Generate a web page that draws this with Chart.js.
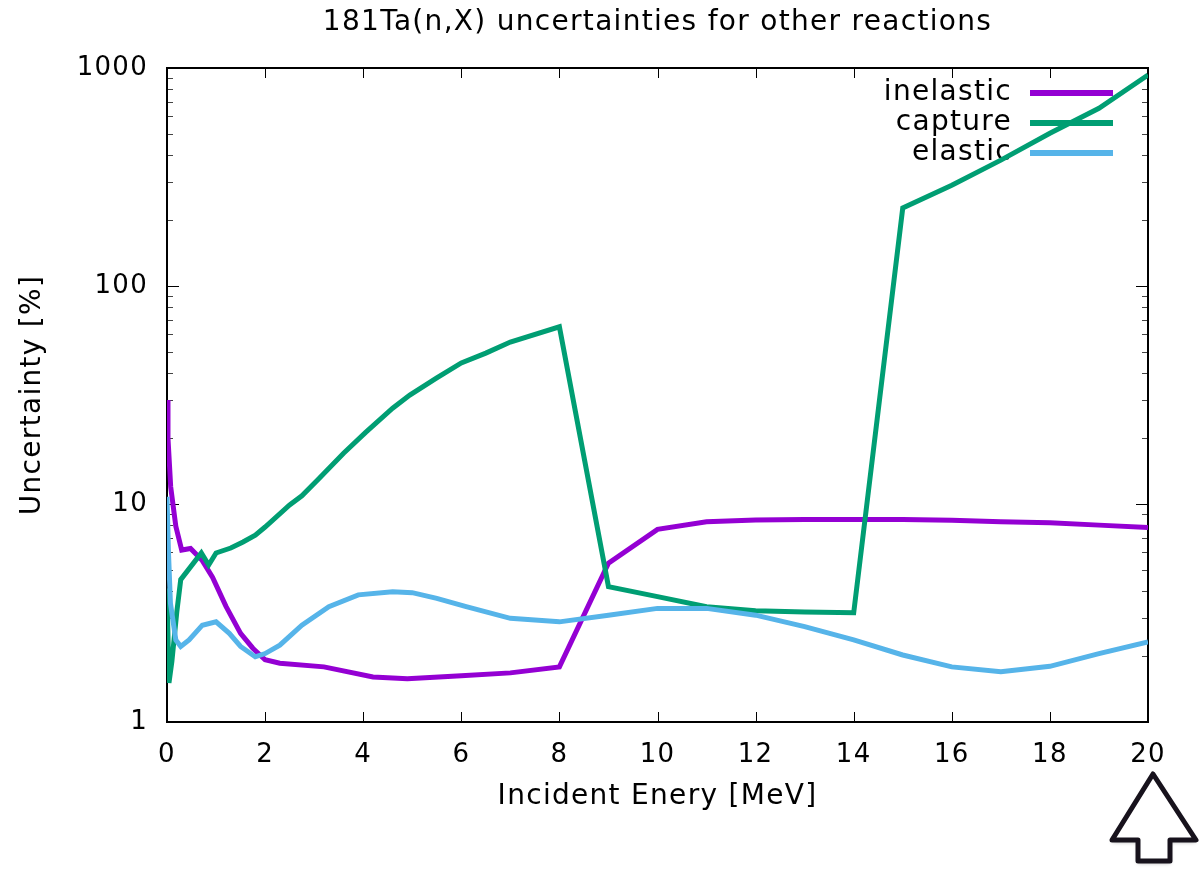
<!DOCTYPE html>
<html>
<head>
<meta charset="utf-8">
<script src="https://cdn.jsdelivr.net/npm/chart.js@4"></script>
<style>
  html, body { margin: 0; padding: 0; background: #fff; }
</style>
</head>
<body>
<canvas id="uncChart" width="1202" height="871"></canvas>
<script>
// 181Ta(n,X) relative uncertainties vs incident energy
const chartTitle = '181Ta(n,X) uncertainties for other reactions';

const inelasticE = [0, 0.02, 0.075, 0.18, 0.3, 0.48, 0.72, 0.93, 1.2, 1.5, 1.75, 2.0, 2.3, 3.2, 4.2, 4.9, 6.0, 7.0, 8.0,
                    9.0, 10.0, 11.0, 12.0, 13.0, 14.0, 15.0, 16.0, 17.0, 18.0, 19.0, 20.0];
const inelasticU = [30, 20, 12.0, 7.9, 6.15, 6.25, 5.5, 4.6, 3.4, 2.55, 2.18, 1.93, 1.86, 1.79, 1.61, 1.58, 1.63, 1.68, 1.79,
                    5.35, 7.65, 8.29, 8.44, 8.48, 8.5, 8.5, 8.42, 8.3, 8.2, 8.0, 7.8];

const captureE = [0, 0.04, 0.1, 0.2, 0.28, 0.7, 0.85, 1.0, 1.3, 1.55, 1.8, 2.0, 2.5, 2.75, 3.1, 3.6, 4.05, 4.6, 4.95, 5.5,
                  6.0, 6.5, 7.0, 8.0, 9.0, 10.0, 11.0, 12.0, 13.0, 14.0, 15.0, 16.0, 17.0, 18.0, 19.0, 20.0];
const captureU = [4.1, 1.51, 1.9, 3.2, 4.5, 5.96, 5.25, 5.96, 6.28, 6.7, 7.2, 7.84, 9.9, 10.9, 13.1, 17.1, 21.3, 27.5, 31.6, 37.9,
                  44.4, 49.2, 55.3, 65, 4.18, 3.76, 3.38, 3.24, 3.2, 3.17, 228, 290, 378, 502, 653, 929];

const elasticE = [0, 0.03, 0.07, 0.18, 0.28, 0.45, 0.72, 1.0, 1.27, 1.5, 1.8, 2.0, 2.3, 2.75, 3.3, 3.9, 4.6, 5.0, 5.5, 6.1,
                  7.0, 8.0, 9.0, 10.0, 11.0, 12.0, 13.0, 14.0, 15.0, 16.0, 17.0, 18.0, 19.0, 20.0];
const elasticU = [10.8, 6.0, 3.5, 2.38, 2.22, 2.38, 2.78, 2.88, 2.55, 2.22, 1.99, 2.06, 2.25, 2.78, 3.38, 3.83, 3.96, 3.92, 3.69, 3.38,
                  2.99, 2.88, 3.09, 3.32, 3.32, 3.09, 2.74, 2.38, 2.03, 1.79, 1.70, 1.80, 2.06, 2.33];

const xTicks = [0, 2, 4, 6, 8, 10, 12, 14, 16, 18, 20];
const yTicks = [1, 10, 100, 1000];

const FONT = 'DejaVu Sans';

function toPoints(xs, ys) {
  return xs.map((x, i) => ({ x: x, y: ys[i] }));
}

// gnuplot-like frame: inward ticks on all four sides, key drawn under the curves
const framePlugin = {
  id: 'framePlugin',
  beforeDraw(chart) {
    // slightly wider text, closer to the original terminal font
    chart.ctx.letterSpacing = '1.3px';
  },
  beforeDatasetsDraw(chart) {
    const { ctx, chartArea: a, scales: { x, y } } = chart;
    ctx.save();
    ctx.strokeStyle = '#000';
    ctx.lineWidth = 1;
    const seg = (x1, y1, x2, y2) => { ctx.beginPath(); ctx.moveTo(x1, y1); ctx.lineTo(x2, y2); ctx.stroke(); };

    xTicks.forEach(v => {
      const px = Math.round(x.getPixelForValue(v)) + 0.5;
      seg(px, a.bottom, px, a.bottom - 10);
      seg(px, a.top, px, a.top + 10);
    });
    for (let d = 1; d <= 1000; d *= 10) {
      for (let m = 1; m <= 9; m++) {
        const v = d * m;
        if (v > 1000) break;
        const py = Math.round(y.getPixelForValue(v)) + 0.5;
        const len = m === 1 ? 12 : 6;
        ctx.strokeStyle = m === 1 ? '#000' : '#444';
        seg(a.left, py, a.left + len, py);
        seg(a.right, py, a.right - len, py);
      }
    }

    ctx.strokeStyle = '#000';
    ctx.lineWidth = 2;
    ctx.strokeRect(a.left, a.top, a.width, a.height);

    // key
    ctx.font = '28px "' + FONT + '"';
    ctx.textAlign = 'right';
    ctx.textBaseline = 'middle';
    chart.data.datasets.forEach((ds, i) => {
      const ry = a.top + 25 + i * 30;
      ctx.fillStyle = '#000';
      ctx.fillText(ds.label, a.right - 136, ry);
      ctx.strokeStyle = ds.borderColor;
      ctx.lineWidth = 6;
      seg(a.right - 118, ry, a.right - 35, ry);
    });
    ctx.restore();
  },
  afterDraw(chart) {
    const { ctx, chartArea: a } = chart;
    ctx.save();
    ctx.font = '28px "' + FONT + '"';
    ctx.fillStyle = '#000';
    ctx.textAlign = 'center';
    ctx.textBaseline = 'middle';
    ctx.fillText(chartTitle, (a.left + a.right) / 2, 23);

    // up-arrow button in the corner
    ctx.beginPath();
    ctx.moveTo(1153, 774);
    ctx.lineTo(1196, 840);
    ctx.lineTo(1170, 840);
    ctx.lineTo(1170, 861);
    ctx.lineTo(1138, 861);
    ctx.lineTo(1138, 840);
    ctx.lineTo(1112, 840);
    ctx.closePath();
    ctx.shadowColor = 'rgba(0,0,0,0.35)';
    ctx.shadowBlur = 4;
    ctx.shadowOffsetY = 2;
    ctx.fillStyle = '#fff';
    ctx.fill();
    ctx.shadowColor = 'transparent';
    ctx.lineJoin = 'round';
    ctx.lineWidth = 5;
    ctx.strokeStyle = '#17121c';
    ctx.stroke();
    ctx.restore();
  }
};

const ctx = document.getElementById('uncChart').getContext('2d');
const uncChart = new Chart(ctx, {
  type: 'line',
  data: {
    datasets: [
      { label: 'inelastic', data: toPoints(inelasticE, inelasticU), borderColor: '#9400d3', order: 3 },
      { label: 'capture', data: toPoints(captureE, captureU), borderColor: '#009e73', order: 2 },
      { label: 'elastic', data: toPoints(elasticE, elasticU), borderColor: '#56b4e9', order: 1 }
    ]
  },
  options: {
    responsive: false,
    animation: false,
    elements: {
      line: { borderWidth: 5, tension: 0, fill: false },
      point: { radius: 0, hoverRadius: 0 }
    },
    layout: { padding: { top: 68, right: 54, left: 0, bottom: 0 } },
    plugins: {
      legend: { display: false },
      title: { display: false },
      tooltip: { enabled: false }
    },
    scales: {
      x: {
        type: 'linear',
        min: 0,
        max: 20,
        afterFit: s => { s.height = 149; },
        afterBuildTicks: s => { s.ticks = xTicks.map(v => ({ value: v })); },
        grid: { display: false, drawTicks: false },
        border: { display: false },
        ticks: { color: '#000', padding: 18, maxRotation: 0, font: { family: FONT, size: 26 } },
        title: {
          display: true,
          text: 'Incident Enery [MeV]',
          color: '#000',
          font: { family: FONT, size: 28 },
          padding: { top: 0, bottom: 57 }
        }
      },
      y: {
        type: 'logarithmic',
        min: 1,
        max: 1000,
        afterFit: s => { s.width = 167; },
        afterBuildTicks: s => { s.ticks = yTicks.map(v => ({ value: v })); },
        grid: { display: false, drawTicks: false },
        border: { display: false },
        ticks: { color: '#000', padding: 19, font: { family: FONT, size: 26 }, callback: v => String(v) },
        title: {
          display: true,
          text: 'Uncertainty [%]',
          color: '#000',
          font: { family: FONT, size: 28 },
          padding: { top: 16, bottom: 0 }
        }
      }
    }
  },
  plugins: [framePlugin]
});
</script>
</body>
</html>
